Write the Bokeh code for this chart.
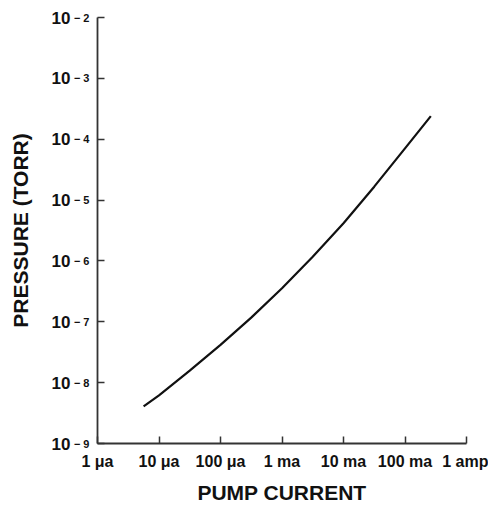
from bokeh.plotting import figure
from bokeh.models import FixedTicker, Range1d, LogAxis
from bokeh.embed import file_html
from bokeh.resources import INLINE

# Data (current in amperes, pressure in torr)
pump_current = [5.62e-6, 1.0e-5, 3.16e-5, 1.0e-4, 3.16e-4, 1.0e-3, 3.16e-3, 1.0e-2, 3.16e-2, 1.0e-1, 2.63e-1]
pressure = [4.07e-9, 6.17e-9, 1.58e-8, 4.17e-8, 1.17e-7, 3.55e-7, 1.17e-6, 4.17e-6, 1.66e-5, 7.08e-5, 2.4e-4]

x_ticks = [1e-6, 1e-5, 1e-4, 1e-3, 1e-2, 1e-1, 1.0]
x_tick_labels = ["1 μa", "10 μa", "100 μa", "1 ma", "10 ma", "100 ma", "1 amp"]
y_ticks = [1e-9, 1e-8, 1e-7, 1e-6, 1e-5, 1e-4, 1e-3, 1e-2]
y_tick_base = ["10"] * 8
y_tick_exponents = ["− 9", "− 8", "− 7", "− 6", "− 5", "− 4", "− 3", "− 2"]

p = figure(width=488, height=506, x_axis_type="log", y_axis_type="log",
           x_range=Range1d(1e-6, 1.0), y_range=Range1d(1e-9, 1e-2),
           output_backend="svg", toolbar_location=None,
           min_border_left=97, min_border_right=22, min_border_top=17, min_border_bottom=61)

p.outline_line_color = None
p.background_fill_color = "white"
p.border_fill_color = "white"
p.xgrid.visible = False
p.ygrid.visible = False

p.line(pump_current, pressure, line_color="#111111", line_width=2.2)

font = "Liberation Sans"
axis_color = "#333333"
text_color = "#111111"

# outer left axis carrying the "10" part of the labels and the title
y_base_axis = LogAxis(ticker=FixedTicker(ticks=y_ticks))
p.add_layout(y_base_axis, "left")

p.xaxis.ticker = FixedTicker(ticks=x_ticks)
p.xaxis.major_label_overrides = {t: l for t, l in zip(x_ticks, x_tick_labels)}
p.yaxis[0].ticker = FixedTicker(ticks=y_ticks)
p.yaxis[0].major_label_overrides = {t: e for t, e in zip(y_ticks, y_tick_exponents)}
y_base_axis.major_label_overrides = {t: b for t, b in zip(y_ticks, y_tick_base)}

for ax in (p.xaxis[0], p.yaxis[0], y_base_axis):
    ax.axis_line_color = axis_color
    ax.axis_line_width = 1.8
    ax.major_tick_line_color = axis_color
    ax.major_tick_line_width = 1.5
    ax.major_tick_in = 7
    ax.major_tick_out = 0
    ax.minor_tick_line_color = None
    ax.major_label_text_font = font
    ax.major_label_text_font_style = "bold"
    ax.major_label_text_font_size = "16px"
    ax.major_label_text_color = text_color
    ax.axis_label_text_font = font
    ax.axis_label_text_font_style = "bold"
    ax.axis_label_text_font_size = "21px"
    ax.axis_label_text_color = text_color

# exponent axis (nearest the frame)
ey = p.yaxis[0]
ey.major_label_text_font_size = "11px"
ey.major_label_standoff = 8
ey.major_label_text_baseline = "alphabetic"

# base axis: only labels
y_base_axis.axis_line_color = None
y_base_axis.major_tick_line_color = None
y_base_axis.major_tick_in = 0
y_base_axis.major_label_text_font_size = "17px"
y_base_axis.major_label_standoff = 0
y_base_axis.axis_label = "PRESSURE (TORR)"
y_base_axis.axis_label_standoff = 17

p.xaxis.axis_label = "PUMP CURRENT"
p.xaxis.major_label_standoff = 9
p.xaxis.axis_label_standoff = 8

open("out.html", "w").write(file_html(p, INLINE))
